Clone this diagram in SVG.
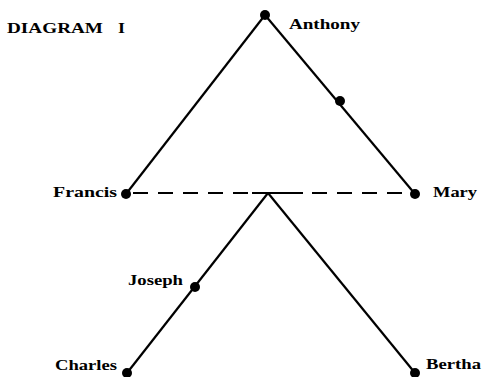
<svg xmlns="http://www.w3.org/2000/svg" width="482" height="377" viewBox="0 0 482 377">
<style>
text{font-family:"Liberation Serif","DejaVu Serif",serif;font-weight:bold;font-size:14px;fill:#000}
.l{stroke:#000;stroke-width:2.2;fill:none}
.d{stroke:#000;stroke-width:2.2;fill:none;stroke-dasharray:15 10}
.n{fill:#000}
</style>
<rect width="482" height="377" fill="#fff"/>
<text x="7" y="33" textLength="96" lengthAdjust="spacingAndGlyphs">DIAGRAM</text>
<text x="118" y="33" textLength="7" lengthAdjust="spacingAndGlyphs">I</text>
<g id="connectors">
<line class="l" x1="265" y1="15" x2="126" y2="194"/>
<line class="l" x1="265" y1="15" x2="415" y2="194"/>
<line class="d" x1="133" y1="193" x2="250" y2="193"/>
<line class="l" x1="252" y1="193" x2="303" y2="193"/>
<line class="d" x1="312" y1="193" x2="408" y2="193"/>
<line class="l" x1="268" y1="193" x2="127" y2="373"/>
<line class="l" x1="268" y1="193" x2="415" y2="373"/>
</g>
<g id="anthony"><circle class="n" cx="265" cy="15" r="5"/><text x="289" y="29" textLength="71" lengthAdjust="spacingAndGlyphs">Anthony</text></g>
<g id="mid-right"><circle class="n" cx="340" cy="101" r="5"/></g>
<g id="francis"><circle class="n" cx="126" cy="194" r="5"/><text x="53" y="197" textLength="64" lengthAdjust="spacingAndGlyphs">Francis</text></g>
<g id="mary"><circle class="n" cx="415" cy="194" r="5"/><text x="433" y="197" textLength="44" lengthAdjust="spacingAndGlyphs">Mary</text></g>
<g id="joseph"><circle class="n" cx="195" cy="287" r="5"/><text x="128" y="285" textLength="55" lengthAdjust="spacingAndGlyphs">Joseph</text></g>
<g id="charles"><circle class="n" cx="127" cy="373" r="5"/><text x="55" y="370" textLength="62" lengthAdjust="spacingAndGlyphs">Charles</text></g>
<g id="bertha"><circle class="n" cx="415" cy="373" r="5"/><text x="426" y="369" textLength="55" lengthAdjust="spacingAndGlyphs">Bertha</text></g>
</svg>
